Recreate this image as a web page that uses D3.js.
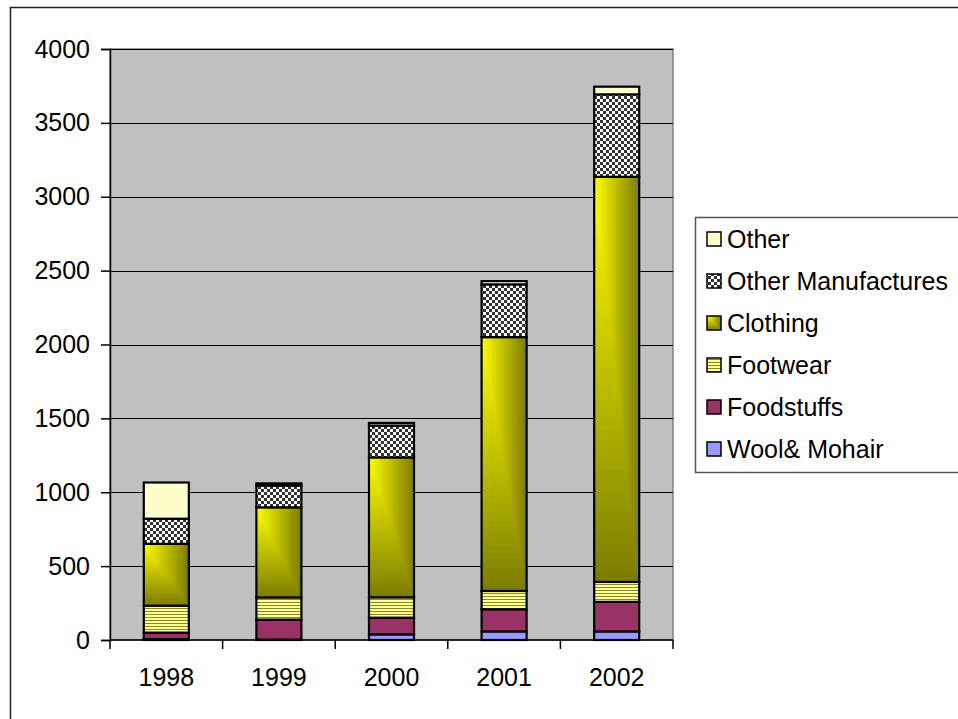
<!DOCTYPE html>
<html>
<head>
<meta charset="utf-8">
<script src="https://cdn.jsdelivr.net/npm/d3@7"></script>
<style>
  body { margin: 0; background: #fff; }
  svg { display: block; font-family: "Liberation Sans", Arial, sans-serif; }
</style>
</head>
<body>
<div id="chart"></div>
<script>
// values
const years = ["1998", "1999", "2000", "2001", "2002"];
const woolMohair = [5, 3, 38, 58, 58];
const foodstuffs = [45, 135, 113, 150, 200];
const footwear = [182, 150, 138, 124, 135];
const clothing = [419, 610, 947, 1718, 2742];
const otherManufactures = [170, 147, 215, 357, 558];
const other = [245, 15, 18, 22, 52];
const yTicks = [0, 500, 1000, 1500, 2000, 2500, 3000, 3500, 4000];

const seriesNames = ["Wool& Mohair", "Foodstuffs", "Footwear", "Clothing", "Other Manufactures", "Other"];
const seriesValues = [woolMohair, foodstuffs, footwear, clothing, otherManufactures, other];

const W = 958, H = 719;
const plot = { left: 110, right: 673, top: 49, bottom: 640 };
const fontSize = 25;

const svg = d3.select("#chart").append("svg")
    .attr("width", W)
    .attr("height", H);

// patterns
const defs = svg.append("defs");
const stripes = defs.append("pattern")
    .attr("id", "stripes")
    .attr("patternUnits", "userSpaceOnUse")
    .attr("width", 6).attr("height", 3);
stripes.append("rect").attr("width", 6).attr("height", 3).attr("fill", "#ffff99");
stripes.append("rect").attr("y", 2).attr("width", 6).attr("height", 1).attr("fill", "#8a8a20");

const checker = defs.append("pattern")
    .attr("id", "checker")
    .attr("patternUnits", "userSpaceOnUse")
    .attr("width", 6).attr("height", 6);
checker.append("rect").attr("width", 6).attr("height", 6).attr("fill", "#ffffff");
checker.append("rect").attr("width", 3).attr("height", 3).attr("fill", "#333333");
checker.append("rect").attr("x", 3).attr("y", 3).attr("width", 3).attr("height", 3).attr("fill", "#333333");

const fills = {
    "Wool& Mohair": "#9999ff",
    "Foodstuffs": "#993366",
    "Footwear": "url(#stripes)",
    "Clothing": null,          // corner gradient, drawn by hand
    "Other Manufactures": "url(#checker)",
    "Other": "#ffffcc"
};
const gradColor = d3.interpolateRgb("#ffff00", "#7c7c00");

// draws an Excel style "from corner" gradient into a box
function cornerGradient(g, x0, y0, w, h) {
    const N = 40;
    g.append("rect").attr("x", x0).attr("y", y0).attr("width", w).attr("height", h)
        .attr("fill", gradColor(1));
    for (let i = N - 1; i >= 1; i--) {
        g.append("rect")
            .attr("x", x0).attr("y", y0)
            .attr("width", w * i / N).attr("height", h * i / N)
            .attr("fill", gradColor((i - 0.5) / N));
    }
}

// outer chart border
svg.append("rect")
    .attr("x", 10.5).attr("y", 7.5)
    .attr("width", 1000).attr("height", 800)
    .attr("fill", "none")
    .attr("stroke", "#222")
    .attr("stroke-width", 1.5);

// scales
const x = d3.scaleBand()
    .domain(years)
    .range([plot.left, plot.right])
    .paddingInner(0.6)
    .paddingOuter(0.3);
const y = d3.scaleLinear()
    .domain([0, 4000])
    .range([plot.bottom, plot.top]);

// plot background
svg.append("rect")
    .attr("x", plot.left).attr("y", plot.top)
    .attr("width", plot.right - plot.left)
    .attr("height", plot.bottom - plot.top)
    .attr("fill", "#c0c0c0")
    .attr("stroke", "#808080")
    .attr("stroke-width", 1.5);

// gridlines
svg.append("g").selectAll("line")
    .data(yTicks.filter(d => d > 0))
    .join("line")
    .attr("x1", plot.left).attr("x2", plot.right)
    .attr("y1", d => Math.round(y(d)) + 0.5).attr("y2", d => Math.round(y(d)) + 0.5)
    .attr("stroke", "#000")
    .attr("stroke-width", 1.2);

// stacked bars
const table = years.map((yr, i) => {
    const row = { year: yr };
    seriesNames.forEach((s, k) => row[s] = seriesValues[k][i]);
    return row;
});
const stacked = d3.stack().keys(seriesNames)(table);

const barsG = svg.append("g");
stacked.forEach(layer => {
    const name = layer.key;
    layer.forEach(d => {
        const bx = x(d.data.year), bw = x.bandwidth();
        const by = y(d[1]), bh = y(d[0]) - y(d[1]);
        const g = barsG.append("g");
        if (name === "Clothing") {
            cornerGradient(g, bx, by, bw, bh);
        } else {
            g.append("rect").attr("x", bx).attr("y", by).attr("width", bw).attr("height", bh)
                .attr("fill", fills[name]);
        }
        g.append("rect").attr("x", bx).attr("y", by).attr("width", bw).attr("height", bh)
            .attr("fill", "none")
            .attr("stroke", "#000")
            .attr("stroke-width", 2.2);
    });
});

// y axis
const yAxis = svg.append("g")
    .attr("transform", `translate(${plot.left},0)`)
    .call(d3.axisLeft(y).tickValues(yTicks).tickSize(9).tickPadding(11).tickFormat(d3.format("d")));
yAxis.select(".domain").attr("stroke", "#000").attr("stroke-width", 1.5);
yAxis.selectAll(".tick line").attr("stroke", "#000").attr("stroke-width", 1.5);
yAxis.selectAll(".tick text")
    .attr("font-size", fontSize)
    .attr("fill", "#000")
    .style("font-family", "Liberation Sans, Arial, sans-serif");

// x axis: baseline, ticks between categories, labels
const xAxis = svg.append("g");
xAxis.append("line")
    .attr("x1", plot.left).attr("x2", plot.right)
    .attr("y1", plot.bottom).attr("y2", plot.bottom)
    .attr("stroke", "#000").attr("stroke-width", 1.5);
const boundaries = years.map(yr => x(yr) - x.step() * 0.3).concat([plot.right]);
xAxis.selectAll(".xt")
    .data(boundaries)
    .join("line")
    .attr("class", "xt")
    .attr("x1", d => d).attr("x2", d => d)
    .attr("y1", plot.bottom).attr("y2", plot.bottom + 9)
    .attr("stroke", "#000").attr("stroke-width", 1.5);
xAxis.selectAll(".xl")
    .data(years)
    .join("text")
    .attr("class", "xl")
    .attr("x", d => x(d) + x.bandwidth() / 2)
    .attr("y", 686)
    .attr("text-anchor", "middle")
    .attr("font-size", fontSize)
    .text(d => d);

// legend
const legend = svg.append("g");
legend.append("rect")
    .attr("x", 695.5).attr("y", 217.5)
    .attr("width", 300).attr("height", 255)
    .attr("fill", "#fff")
    .attr("stroke", "#555")
    .attr("stroke-width", 1.5);

const legendOrder = seriesNames.slice().reverse();
legendOrder.forEach((name, i) => {
    const cy = 239 + i * 42;
    const g = legend.append("g");
    const sx = 707, sy = cy - 7, ss = 14;
    if (name === "Clothing") {
        cornerGradient(g, sx, sy, ss, ss);
    } else {
        g.append("rect").attr("x", sx).attr("y", sy).attr("width", ss).attr("height", ss)
            .attr("fill", fills[name]);
    }
    g.append("rect").attr("x", sx).attr("y", sy).attr("width", ss).attr("height", ss)
        .attr("fill", "none").attr("stroke", "#000").attr("stroke-width", 1.5);
    g.append("text")
        .attr("x", 727)
        .attr("y", cy + 9)
        .attr("font-size", fontSize)
        .text(name);
});
</script>
</body>
</html>
